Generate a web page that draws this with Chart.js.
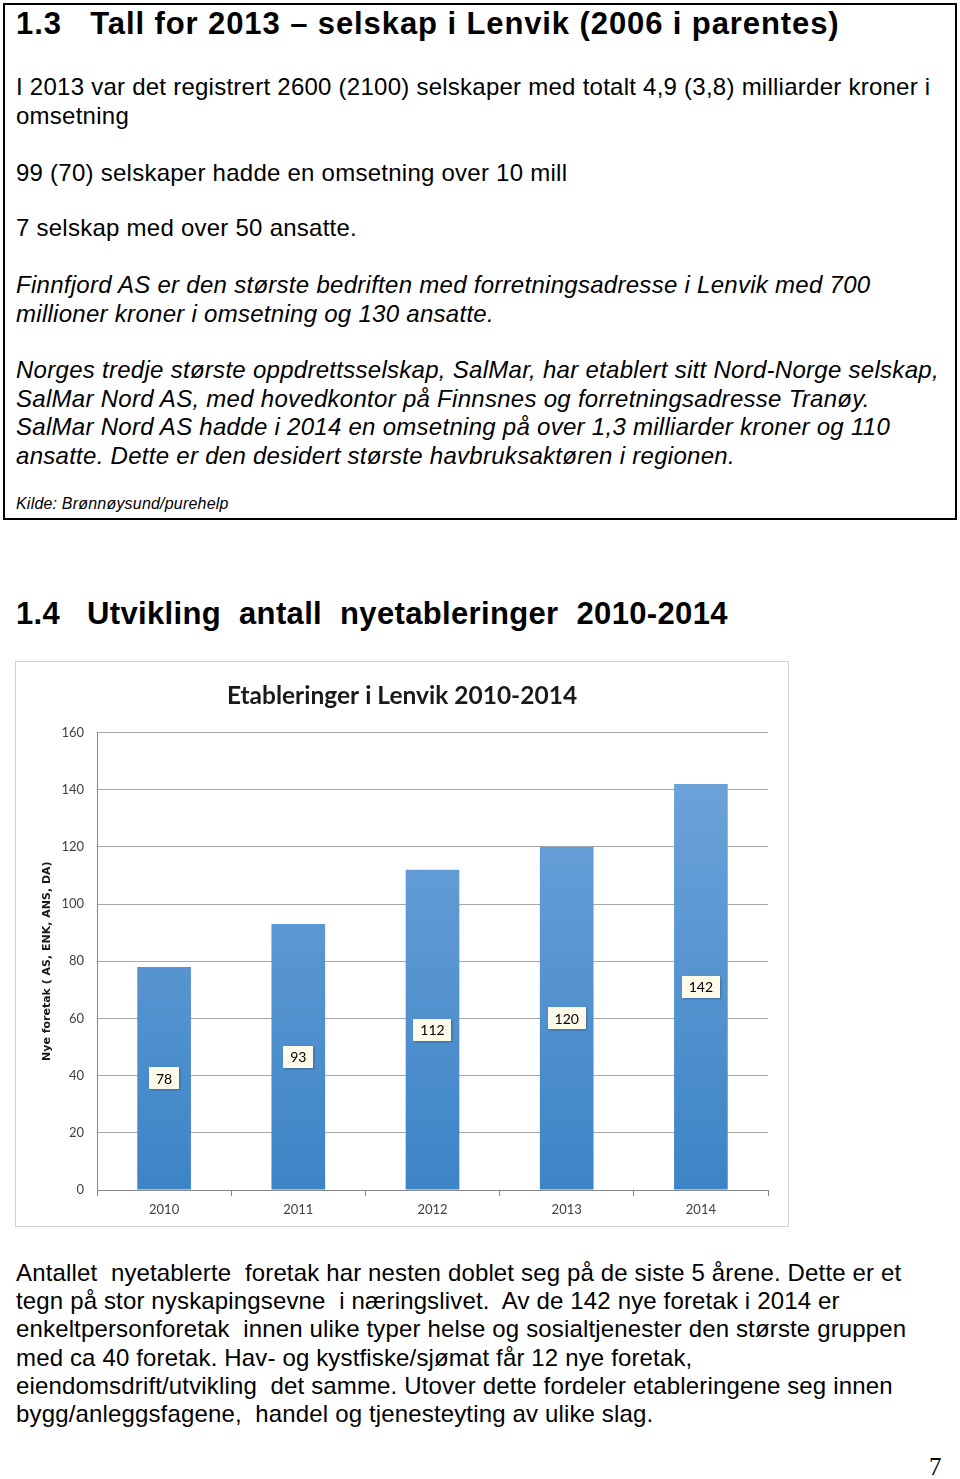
<!DOCTYPE html>
<html>
<head>
<meta charset="utf-8">
<script src="https://cdn.jsdelivr.net/npm/chart.js@4.4.1/dist/chart.umd.min.js"></script>
<style>
  html, body { margin: 0; padding: 0; background: #fff; }
  body { width: 960px; height: 1479px; position: relative; overflow: hidden; font-family: "Liberation Sans", Arial, sans-serif; color: #000; }
  .box { position: absolute; left: 3px; top: 3px; width: 950px; height: 513px; border: 2px solid #000; }
  .ln { position: absolute; left: 16px; white-space: pre; font-size: 24px; line-height: 28px; letter-spacing: 0.25px; }
  .it { font-style: italic; letter-spacing: 0.28px; }
  .h { font-weight: bold; font-size: 31px; line-height: 34px; letter-spacing: 0.9px; }
  .h2 { letter-spacing: 0.35px; }
  .src { font-size: 16px; line-height: 20px; font-style: italic; letter-spacing: 0.2px; }
  .bt { letter-spacing: 0.15px; }
  .chartbox { position: absolute; left: 15px; top: 661px; width: 772px; height: 564px; border: 1.5px solid #d4d4d4; }
  .pg { position: absolute; left: 929px; top: 1453px; font-family: "Liberation Serif", serif; font-size: 25px; line-height: 28px; }
</style>
</head>
<body>
<div class="box"></div>
<div class="ln h" style="top:7px">1.3   Tall for 2013 – selskap i Lenvik (2006 i parentes)</div>
<div class="ln" style="top:73px">I 2013 var det registrert 2600 (2100) selskaper med totalt 4,9 (3,8) milliarder kroner i</div>
<div class="ln" style="top:102px">omsetning</div>
<div class="ln" style="top:159px">99 (70) selskaper hadde en omsetning over 10 mill</div>
<div class="ln" style="top:214px">7 selskap med over 50 ansatte.</div>
<div class="ln it" style="top:271px">Finnfjord AS er den største bedriften med forretningsadresse i Lenvik med 700</div>
<div class="ln it" style="top:300px">millioner kroner i omsetning og 130 ansatte.</div>
<div class="ln it" style="top:356px">Norges tredje største oppdrettsselskap, SalMar, har etablert sitt Nord-Norge selskap,</div>
<div class="ln it" style="top:385px">SalMar Nord AS, med hovedkontor på Finnsnes og forretningsadresse Tranøy.</div>
<div class="ln it" style="top:413px">SalMar Nord AS hadde i 2014 en omsetning på over 1,3 milliarder kroner og 110</div>
<div class="ln it" style="top:442px">ansatte. Dette er den desidert største havbruksaktøren i regionen.</div>
<div class="ln src" style="top:494px">Kilde: Brønnøysund/purehelp</div>

<div class="ln h h2" style="top:597px">1.4   Utvikling  antall  nyetableringer  2010-2014</div>

<div class="chartbox"><canvas id="c" width="772" height="564"></canvas></div>

<div class="ln bt" style="top:1259px">Antallet  nyetablerte  foretak har nesten doblet seg på de siste 5 årene. Dette er et</div>
<div class="ln bt" style="top:1287px">tegn på stor nyskapingsevne  i næringslivet.  Av de 142 nye foretak i 2014 er</div>
<div class="ln bt" style="top:1315px">enkeltpersonforetak  innen ulike typer helse og sosialtjenester den største gruppen</div>
<div class="ln bt" style="top:1344px">med ca 40 foretak. Hav- og kystfiske/sjømat får 12 nye foretak,</div>
<div class="ln bt" style="top:1372px">eiendomsdrift/utvikling  det samme. Utover dette fordeler etableringene seg innen</div>
<div class="ln bt" style="top:1400px">bygg/anleggsfagene,  handel og tjenesteyting av ulike slag.</div>
<div class="pg">7</div>

<script>
const categories = ["2010", "2011", "2012", "2013", "2014"];
const newCompanies = [78, 93, 112, 120, 142];
const yTicks = [0, 20, 40, 60, 80, 100, 120, 140, 160];
const chartTitle = "Etableringer i Lenvik 2010-2014";
const yTitle = "Nye foretak ( AS, ENK, ANS, DA)";

Chart.defaults.font.family = "Lato, 'Open Sans', sans-serif";
Chart.defaults.color = "#404040";

const labelPlugin = {
  id: "barLabels",
  afterDatasetsDraw(chart) {
    const ctx = chart.ctx;
    const meta = chart.getDatasetMeta(0);
    ctx.save();
    ctx.font = "14px Lato, 'Liberation Sans', sans-serif";
    ctx.textAlign = "center";
    ctx.textBaseline = "middle";
    meta.data.forEach((bar, i) => {
      const txt = String(chart.data.datasets[0].data[i]);
      const cx = bar.x;
      const cy = (bar.y + bar.base) / 2;
      const w = ctx.measureText(txt).width + 14;
      const h = 22;
      ctx.shadowColor = "rgba(0,0,0,0.25)";
      ctx.shadowBlur = 2;
      ctx.shadowOffsetX = 1;
      ctx.shadowOffsetY = 1;
      ctx.fillStyle = "#fdfaea";
      ctx.fillRect(Math.round(cx - w / 2), Math.round(cy - h / 2), Math.round(w), h);
      ctx.shadowColor = "transparent";
      ctx.fillStyle = "#000";
      ctx.fillText(txt, cx, cy + 1);
    });
    ctx.restore();
  }
};

new Chart(document.getElementById("c"), {
  type: "bar",
  data: {
    labels: categories,
    datasets: [{
      data: newCompanies,
      backgroundColor(context) {
        const ca = context.chart.chartArea;
        if (!ca) return "#4f8fd0";
        const g = context.chart.ctx.createLinearGradient(0, ca.top, 0, ca.bottom);
        g.addColorStop(0, "#72a6dc");
        g.addColorStop(1, "#3d84c6");
        return g;
      },
      borderWidth: 0,
      barPercentage: 0.8,
      categoryPercentage: 0.5
    }]
  },
  options: {
    responsive: false,
    animation: false,
    events: [],
    layout: { padding: { left: 0, right: 0, top: 0, bottom: 8 } },
    plugins: {
      legend: { display: false },
      tooltip: { enabled: false },
      title: {
        display: true,
        text: chartTitle,
        color: "#1a1a1a",
        font: { size: 24.5, weight: "bold", family: "Lato, 'Open Sans', sans-serif" },
        padding: { top: 19, bottom: 22 }
      }
    },
    scales: {
      x: {
        grid: { drawOnChartArea: false, drawTicks: true, tickLength: 6, color: "#868686", offset: true },
        border: { color: "#868686", width: 1 },
        ticks: { font: { size: 13 }, color: "#404040", padding: 6 },
        afterFit(s) { s.height = 28; }
      },
      y: {
        min: 0, max: 160,
        afterBuildTicks(s) { s.ticks = yTicks.map(v => ({ value: v })); },
        grid: { drawTicks: false, color: "#a6a6a6" },
        border: { color: "#868686", width: 1 },
        ticks: { font: { size: 13 }, color: "#404040", padding: 13 },
        title: {
          display: true,
          text: yTitle,
          color: "#1a1a1a",
          font: { size: 11, weight: "bold", family: "'DejaVu Sans', Verdana, sans-serif" },
          padding: { top: 25, bottom: 0 }
        },
        afterFit(s) { s.width = 81; }
      },
      yRight: {
        position: "right",
        min: 0, max: 160,
        grid: { drawOnChartArea: false, drawTicks: false },
        border: { display: false },
        ticks: { display: false },
        afterFit(s) { s.width = 20; }
      }
    }
  },
  plugins: [labelPlugin]
});
</script>
</body>
</html>
